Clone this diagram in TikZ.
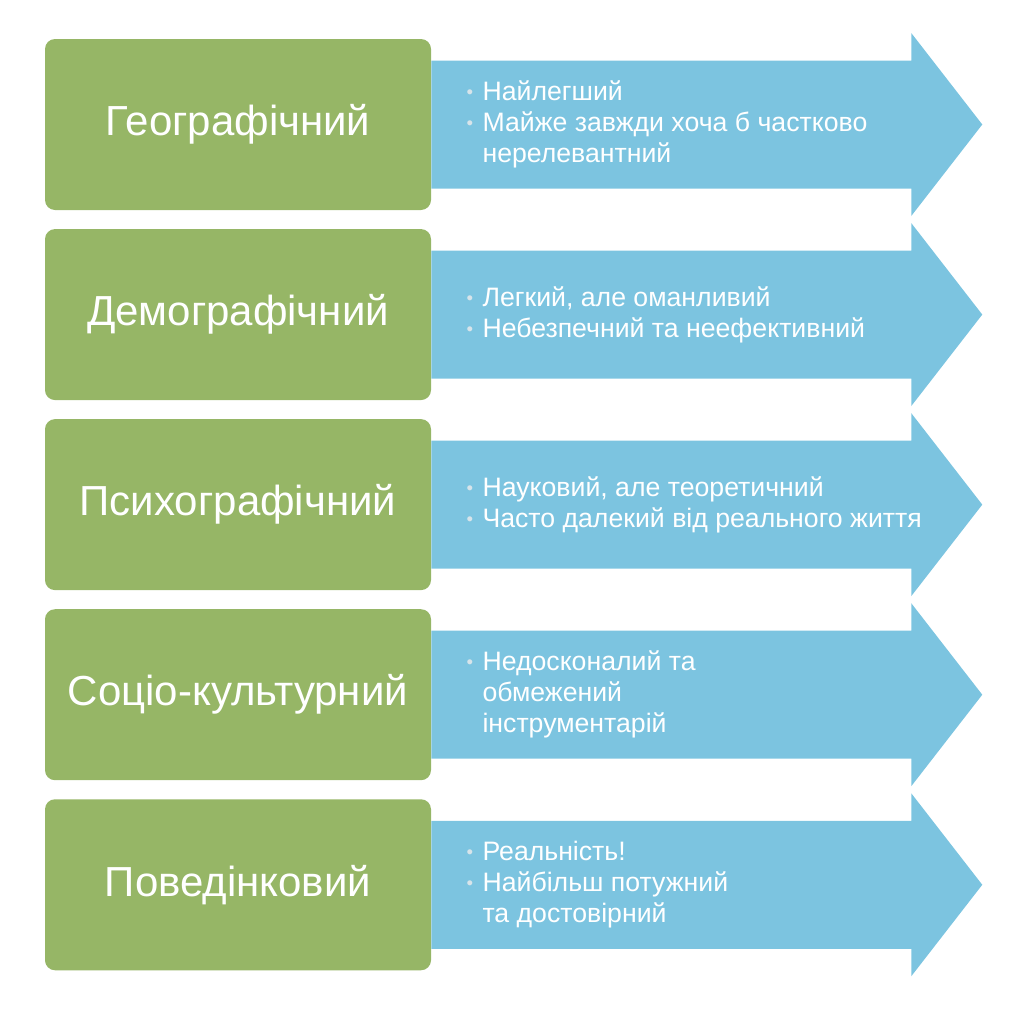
\documentclass[tikz,border=0pt]{standalone}
\usepackage{fontspec}
\setmainfont{Liberation Sans}
\usepackage{xcolor}
\usetikzlibrary{positioning, calc}

\definecolor{segGreen}{RGB}{150,182,102}
\definecolor{segBlue}{RGB}{124,196,224}
\definecolor{dotGray}{RGB}{215,228,234}
\newcommand{\blt}{\makebox[12pt][l]{\raisebox{1.5pt}{\textcolor{dotGray}{\fontsize{14}{14}\selectfont\textbullet}}}}
\newcommand{\ind}{\hspace*{12pt}}

\begin{document}
\begin{tikzpicture}[
    x=0.75pt, y=-0.75pt,
    node distance=13.9pt,
    every node/.style={text=white},
    segbox/.style={fill=segGreen, rounded corners=7.5pt, minimum width=289.5pt, minimum height=128.25pt, inner sep=0pt, font=\fontsize{31.5}{36}\selectfont},
    points/.style={anchor=west, align=left, inner sep=0pt, font=\fontsize{20}{23.25}\selectfont},
    band/.style={fill=segBlue},
]
\useasboundingbox (0,0) rectangle (1024,1017);

% === Segments ===
\node[segbox] (g1) at (238,124.5) {Географічний};
\node[segbox, below=of g1] (g2) {Демографічний};
\node[segbox, below=of g2] (g3) {Психографічний};
\node[segbox, below=of g3] (g4) {Соціо-культурний};
\node[segbox, below=of g4] (g5) {Поведінковий};

% === Arrows ===
\foreach \g in {g1,g2,g3,g4,g5}
  \fill[band] ($(\g.east)+(0,-64)$) -- ++(480,0) -- ++(0,-27.5) -- ($(\g.east)+(551,0)$)
    -- ++(-71,91.5) -- ++(0,-27.5) -- ($(\g.east)+(0,64)$) -- cycle;

% === Notes ===
\node[points] (t1) at ($(g1.east)+(35,0)$) {\blt Найлегший\\\blt Майже завжди хоча б частково\\\ind нерелевантний};
\node[points] (t2) at ($(g2.east)+(35,0)$) {\blt Легкий, але оманливий\\\blt Небезпечний та неефективний};
\node[points] (t3) at ($(g3.east)+(35,0)$) {\blt Науковий, але теоретичний\\\blt Часто далекий від реального життя};
\node[points] (t4) at ($(g4.east)+(35,0)$) {\blt Недосконалий та\\\ind обмежений\\\ind інструментарій};
\node[points] (t5) at ($(g5.east)+(35,0)$) {\blt Реальність!\\\blt Найбільш потужний\\\ind та достовірний};

\end{tikzpicture}
\end{document}
